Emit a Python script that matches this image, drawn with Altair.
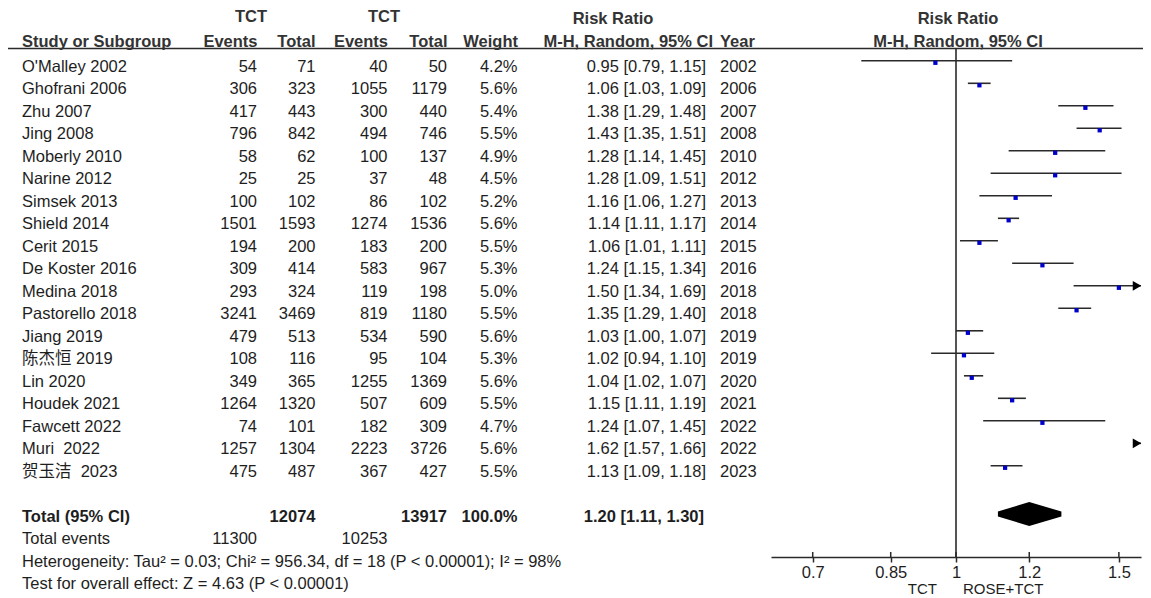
import altair as alt
import pandas as pd

# ---------------- data ----------------
studies = ["O'Malley 2002", "Ghofrani 2006", "Zhu 2007", "Jing 2008", "Moberly 2010",
           "Narine 2012", "Simsek 2013", "Shield 2014", "Cerit 2015", "De Koster 2016",
           "Medina 2018", "Pastorello 2018", "Jiang 2019", "陈杰恒 2019", "Lin 2020",
           "Houdek 2021", "Fawcett 2022", "Muri\u00a0 2022", "贺玉洁\u00a0 2023"]
ev1 = [54, 306, 417, 796, 58, 25, 100, 1501, 194, 309, 293, 3241, 479, 108, 349, 1264, 74, 1257, 475]
tot1 = [71, 323, 443, 842, 62, 25, 102, 1593, 200, 414, 324, 3469, 513, 116, 365, 1320, 101, 1304, 487]
ev2 = [40, 1055, 300, 494, 100, 37, 86, 1274, 183, 583, 119, 819, 534, 95, 1255, 507, 182, 2223, 367]
tot2 = [50, 1179, 440, 746, 137, 48, 102, 1536, 200, 967, 198, 1180, 590, 104, 1369, 609, 309, 3726, 427]
weight = [4.2, 5.6, 5.4, 5.5, 4.9, 4.5, 5.2, 5.6, 5.5, 5.3, 5.0, 5.5, 5.6, 5.3, 5.6, 5.5, 4.7, 5.6, 5.5]
rr = [0.95, 1.06, 1.38, 1.43, 1.28, 1.28, 1.16, 1.14, 1.06, 1.24, 1.50, 1.35, 1.03, 1.02, 1.04, 1.15, 1.24, 1.62, 1.13]
lo = [0.79, 1.03, 1.29, 1.35, 1.14, 1.09, 1.06, 1.11, 1.01, 1.15, 1.34, 1.29, 1.00, 0.94, 1.02, 1.11, 1.07, 1.57, 1.09]
hi = [1.15, 1.09, 1.48, 1.51, 1.45, 1.51, 1.27, 1.17, 1.11, 1.34, 1.69, 1.40, 1.07, 1.10, 1.07, 1.19, 1.45, 1.66, 1.18]
years = [2002, 2006, 2007, 2008, 2010, 2012, 2013, 2014, 2015, 2016, 2018, 2018, 2019, 2019, 2020, 2021, 2022, 2022, 2023]

total_n1, total_n2 = 12074, 13917
total_ev1, total_ev2 = 11300, 10253
total_weight = "100.0%"
total_rr, total_lo, total_hi = 1.20, 1.11, 1.30
heterogeneity = "Heterogeneity: Tau² = 0.03; Chi² = 956.34, df = 18 (P < 0.00001); I² = 98%"
overall = "Test for overall effect: Z = 4.63 (P < 0.00001)"
tick_values = [0.7, 0.85, 1, 1.2, 1.5]
favours_left, favours_right = "TCT", "ROSE+TCT"
x_min, x_max = 10 ** -0.2, 10 ** 0.2

# ---------------- style ----------------
FONT = "Liberation Sans, Arial, Noto Sans CJK SC, sans-serif"
FS = 16.5
TXT = "#1e1e1e"
HDR = "#333333"
LINE = "#2a2a2a"
BLUE = "#0000CC"
W, H = 1135, 549

df = pd.DataFrame({
    "row": list(range(len(studies))),
    "name": studies,
    "ev1": [str(v) for v in ev1],
    "tot1": [str(v) for v in tot1],
    "ev2": [str(v) for v in ev2],
    "tot2": [str(v) for v in tot2],
    "wtxt": [f"{w:.1f}%" for w in weight],
    "rrtxt": [f"{r:.2f} [{l:.2f}, {h:.2f}]" for r, l, h in zip(rr, lo, hi)],
    "year": [str(y) for y in years],
    "rr": rr, "lo": lo, "hi": hi,
})

ys = alt.Scale(domain=[-2.6, 21.8], reverse=True, zero=False, nice=False)
xs = alt.Scale(type="log", domain=[x_min, x_max], range=[763, 1133], clamp=True, nice=False)
xaxis = alt.Axis(values=tick_values, format="~g", title=None, grid=False,
                 domainColor=LINE, domainWidth=1.5, tickColor=LINE, tickWidth=1.5,
                 tickSize=5, labelFont=FONT, labelFontSize=FS, labelColor=TXT,
                 labelPadding=2, labelFlush=False, labelOverlap=False)

Y = alt.Y("row:Q", scale=ys, axis=None)


def col_text(field, x, align):
    return alt.Chart(df).mark_text(align=align, baseline="middle", font=FONT,
                                   fontSize=FS, color=TXT).encode(
        x=alt.value(x), y=Y, text=f"{field}:N")


def label(text, row, x, align="left", bold=False, color=TXT, size=FS):
    d = pd.DataFrame({"row": [row], "t": [text]})
    return alt.Chart(d).mark_text(align=align, baseline="middle", font=FONT, fontSize=size,
                                  fontWeight="bold" if bold else "normal",
                                  color=color).encode(
        x=alt.value(x), y=Y, text="t:N")


one = pd.DataFrame({"v": [0]})
layers = []

# header line
layers.append(alt.Chart(one).mark_rule(color=LINE, strokeWidth=1.6).encode(
    x=alt.value(0), x2=alt.value(W), y=alt.value(40.5)))

# headers
H1, H2 = -2.18, -1.1
layers += [
    label("TCT", H1, 243, "center", True, HDR),
    label("TCT", H1, 376, "center", True, HDR),
    label("Risk Ratio", -2.11, 605, "center", True, HDR),
    label("Study or Subgroup", H2, 14, "left", True, HDR),
    label("Events", H2, 249.5, "right", True, HDR),
    label("Total", H2, 307.5, "right", True, HDR),
    label("Events", H2, 380, "right", True, HDR),
    label("Total", H2, 439.5, "right", True, HDR),
    label("Weight", H2, 510, "right", True, HDR),
    label("M-H, Random, 95% CI", H2, 705, "right", True, HDR),
    label("Year", H2, 712, "left", True, HDR),
    label("Risk Ratio", -2.11, 950, "center", True, HDR),
    label("M-H, Random, 95% CI", H2, 950, "center", True, HDR),
]

# study rows
layers += [
    col_text("name", 14, "left"),
    col_text("ev1", 249, "right"),
    col_text("tot1", 307.5, "right"),
    col_text("ev2", 379.5, "right"),
    col_text("tot2", 439, "right"),
    col_text("wtxt", 509.5, "right"),
    col_text("rrtxt", 698, "right"),
    col_text("year", 712, "left"),
]

# totals & footers
layers += [
    label("Total (95% CI)", 20, 14, "left", True),
    label(str(total_n1), 20, 307.5, "right", True),
    label(str(total_n2), 20, 439, "right", True),
    label(total_weight, 20, 509.5, "right", True),
    label(f"{total_rr:.2f} [{total_lo:.2f}, {total_hi:.2f}]", 20, 696, "right", True),
    label("Total events", 21, 14, "left"),
    label(str(total_ev1), 21, 249, "right"),
    label(str(total_ev2), 21, 379.5, "right"),
    label(heterogeneity, 22, 14, "left"),
    label(overall, 23, 14, "left"),
    label(favours_left, 23.24, 929, "right", size=15),
    label(favours_right, 23.24, 955, "left", size=15),
]

# forest plot
X = alt.X("lo:Q", scale=xs, axis=xaxis)
layers.append(alt.Chart(df).mark_rule(color=LINE, strokeWidth=1.6, yOffset=-5.7).encode(
    x=X, x2="hi:Q", y=Y))
layers.append(alt.Chart(df).transform_filter(f"datum.rr <= {x_max}").mark_square(
    size=18, color=BLUE, opacity=1, yOffset=-3.7).encode(
    x=alt.X("rr:Q", scale=xs), y=Y))
layers.append(alt.Chart(df).transform_filter(f"datum.hi > {x_max}").mark_point(
    shape="triangle-right", filled=True, size=95, color="black", opacity=1,
    xOffset=-4, yOffset=-5.7).encode(
    x=alt.X("hi:Q", scale=xs), y=Y))

# line of no effect
layers.append(alt.Chart(one).mark_rule(color=LINE, strokeWidth=1.6).encode(
    x=alt.datum(1.0), y=alt.value(40.5), y2=alt.value(H)))

# upper halves of axis ticks
ticks_df = pd.DataFrame({"t": tick_values})
layers.append(alt.Chart(ticks_df).mark_rule(color=LINE, strokeWidth=1.5).encode(
    x=alt.X("t:Q", scale=xs), y=alt.value(H - 5), y2=alt.value(H)))

# pooled diamond
h = 0.42
diamond = pd.DataFrame({
    "x": [total_lo, total_rr, total_hi],
    "y1": [20, 20 - h, 20],
    "y2": [20, 20 + h, 20],
})
layers.append(alt.Chart(diamond).mark_area(color="black", opacity=1, yOffset=-5).encode(
    x=alt.X("x:Q", scale=xs), y=alt.Y("y1:Q", scale=ys, axis=None), y2="y2:Q"))

chart = alt.layer(*layers).properties(
    width=W, height=H, autosize="none",
    padding={"left": 0, "top": 0, "right": 0, "bottom": 41},
).configure_view(stroke=None)

chart.save("out.html", embed_options={"renderer": "svg", "actions": False})
